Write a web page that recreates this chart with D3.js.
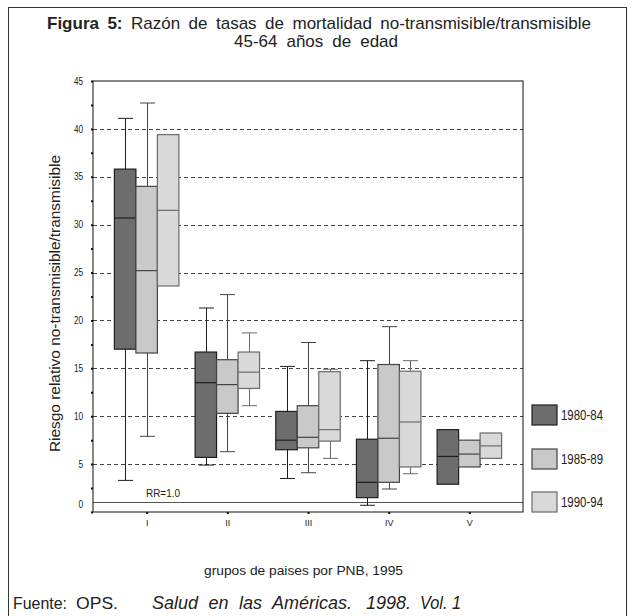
<!DOCTYPE html>
<html lang="es">
<head>
<meta charset="utf-8"/>
<title>Figura 5</title>
<script src="https://cdn.jsdelivr.net/npm/d3@7/dist/d3.min.js"></script>
<style>
  html, body { margin:0; padding:0; background:#fff; }
  svg { display:block; }
  text { font-family:"Liberation Sans", Arial, sans-serif; fill:#222; }
  .axis path { display:none; }
  .axis line { stroke:#111; stroke-width:2; }
  .grid { stroke:#444; stroke-dasharray:4,3; }
</style>
</head>
<body>
<svg width="634" height="616"></svg>
<script>
// grupos de paises y periodos
const groups  = ["I", "II", "III", "IV", "V"];
const periods = ["1980-84", "1985-89", "1990-94"];

// [bigote inf, q1, mediana, q3, bigote sup] por grupo
const stats8084 = [
  [3.3, 17.0, 30.7, 35.8, 41.1],
  [4.9,  5.7, 13.5, 16.7, 21.3],
  [3.5,  6.5,  7.5, 10.5, 15.2],
  [0.7,  1.5,  3.1,  7.6, 15.8],
  [null, 2.9,  5.8,  8.6, null]
];
const stats8589 = [
  [7.9, 16.6, 25.2, 34.0, 42.7],
  [6.3, 10.3, 13.3, 15.9, 22.7],
  [4.1,  6.7,  7.8, 11.1, 17.7],
  [2.4,  3.1,  7.7, 15.4, 19.35],
  [null, 4.7,  6.05, 7.5, null]
];
const stats9094 = [
  [null, 23.6, 31.5, 39.4, null],
  [11.1, 12.9, 14.6, 16.7, 18.7],
  [5.6,  7.4,  8.6, 14.65, 14.9],
  [4.0,  4.7,  9.4, 14.7, 15.8],
  [null, 5.6,  6.9,  8.25, null]
];
const allStats = [stats8084, stats8589, stats9094];

const yTicks  = [0, 5, 10, 15, 20, 25, 30, 35, 40, 45];
const yMinor  = [2.5, 7.5, 12.5, 17.5, 22.5, 27.5, 32.5, 37.5, 42.5];
const gridAt  = [5, 10, 15, 20, 25, 30, 35, 40];
const rrValue = 1.0;

const fills   = ["#6d6d6d", "#c9c9c9", "#d9d9d9"];
const strokes = ["#1e1e1e", "#444", "#6a6a6a"];

const svg = d3.select("svg");

// letra angosta: comprime el texto a un ancho dado (o a 82%)
function narrow(sel, width) {
  sel.each(function() {
    const w = width != null ? width : this.getComputedTextLength() * 0.82;
    d3.select(this).attr("textLength", w).attr("lengthAdjust", "spacingAndGlyphs");
  });
  return sel;
}

// texto justificado: se ensanchan los espacios hasta el ancho dado
function spread(sel, width) {
  const nat = sel.node().getComputedTextLength();
  const spaces = (sel.text().match(/ /g) || []).length;
  if (spaces && width > nat) sel.attr("word-spacing", (width - nat) / spaces);
  return sel;
}

// marco exterior
svg.append("rect")
  .attr("x", 8.5).attr("y", 7.5).attr("width", 618).attr("height", 640)
  .attr("fill", "none").attr("stroke", "#333");

// titulo
svg.append("text")
  .attr("x", 319).attr("y", 29).attr("text-anchor", "middle")
  .attr("font-size", 17)
  .call(t => {
    t.append("tspan").attr("font-weight", "bold").text("Figura 5:");
    t.append("tspan").text(" Razón de tasas de mortalidad no-transmisible/transmisible");
  })
  .call(spread, 544);
svg.append("text")
  .attr("x", 316).attr("y", 47).attr("text-anchor", "middle")
  .attr("font-size", 17)
  .text("45-64 años de edad")
  .call(spread, 164);

const L = 93, R = 523, T = 81, B = 512;

const x = d3.scalePoint().domain(groups).range([L, R]).padding(0.665);
const off = d3.scaleBand().domain(periods).range([-32.25, 32.25]);
const y = d3.scaleLinear().domain([0, 45]).range([B, T]);

// lineas de la grilla
svg.append("g").selectAll("line")
  .data(gridAt).join("line")
  .attr("class", "grid")
  .attr("x1", L).attr("x2", R)
  .attr("y1", d => Math.round(y(d)) + 0.5).attr("y2", d => Math.round(y(d)) + 0.5);

// RR = 1.0
svg.append("line")
  .attr("x1", L).attr("x2", R)
  .attr("y1", Math.round(y(rrValue)) + 0.5).attr("y2", Math.round(y(rrValue)) + 0.5)
  .attr("stroke", "#555");
svg.append("text")
  .attr("x", 146).attr("y", y(rrValue) - 5)
  .attr("font-size", 11).attr("fill", "#333")
  .text("RR=1.0")
  .call(narrow, 34);

// cajas
const bw = off.bandwidth();
const cap = 15;
periods.forEach((p, pi) => {
  const g = svg.append("g");
  const rows = allStats[pi].map((s, gi) => ({ g: groups[gi], s }));
  const cx = d => x(d.g) + off(p) + bw / 2;

  // bigotes
  rows.forEach(d => {
    const [lo, q1, , q3, hi] = d.s;
    const c = Math.round(cx(d)) + 0.5;
    if (hi != null) {
      g.append("line").attr("x1", c).attr("x2", c).attr("y1", y(q3)).attr("y2", y(hi)).attr("stroke", strokes[pi]);
      g.append("line").attr("x1", c - cap / 2).attr("x2", c + cap / 2).attr("y1", y(hi)).attr("y2", y(hi)).attr("stroke", strokes[pi]);
    }
    if (lo != null) {
      g.append("line").attr("x1", c).attr("x2", c).attr("y1", y(q1)).attr("y2", y(lo)).attr("stroke", strokes[pi]);
      g.append("line").attr("x1", c - cap / 2).attr("x2", c + cap / 2).attr("y1", y(lo)).attr("y2", y(lo)).attr("stroke", strokes[pi]);
    }
  });

  g.selectAll("rect").data(rows).join("rect")
    .attr("x", d => x(d.g) + off(p))
    .attr("width", bw)
    .attr("y", d => y(d.s[3]))
    .attr("height", d => y(d.s[1]) - y(d.s[3]))
    .attr("fill", fills[pi])
    .attr("stroke", strokes[pi])
    .attr("stroke-width", 1.2);

  g.selectAll("line.med").data(rows).join("line")
    .attr("class", "med")
    .attr("x1", d => x(d.g) + off(p)).attr("x2", d => x(d.g) + off(p) + bw)
    .attr("y1", d => y(d.s[2])).attr("y2", d => y(d.s[2]))
    .attr("stroke", strokes[pi]).attr("stroke-width", 1.2);
});

// borde del area de trazado
svg.append("rect")
  .attr("x", L).attr("y", T).attr("width", R - L).attr("height", B - T)
  .attr("fill", "none").attr("stroke", "#111");

// ejes
const yAxis = svg.append("g").attr("class", "axis")
  .attr("transform", `translate(${L},0)`)
  .call(d3.axisLeft(y).tickValues(yTicks).tickSize(2).tickPadding(8));
yAxis.selectAll("text").attr("font-size", 10).attr("fill", "#333")
  .attr("dy", d => d === 0 ? "-0.45em" : "0.32em")
  .call(narrow);
svg.append("g").attr("class", "axis")
  .attr("transform", `translate(${L},0)`)
  .call(d3.axisLeft(y).tickValues(yMinor).tickSize(2).tickFormat(""))
  .selectAll("line").attr("stroke-width", 1).attr("stroke", "#333");

const xAxis = svg.append("g").attr("class", "axis")
  .attr("transform", `translate(0,${B})`)
  .call(d3.axisBottom(x).tickSize(2).tickPadding(6));
xAxis.selectAll("text").attr("font-size", 9).attr("fill", "#333");

// titulos de ejes
svg.append("text")
  .attr("transform", "translate(60,303.5) rotate(-90)")
  .attr("text-anchor", "middle").attr("font-size", 14).attr("fill", "#333")
  .text("Riesgo relativo no-transmisible/transmisible")
  .call(narrow, 297);
svg.append("text")
  .attr("x", 303.5).attr("y", 575).attr("text-anchor", "middle")
  .attr("font-size", 12).attr("fill", "#333")
  .text("grupos de paises por PNB, 1995")
  .call(narrow, 199);

// leyenda
const leg = svg.append("g").selectAll("g").data(periods).join("g")
  .attr("transform", (d, i) => `translate(532,${[405, 449, 492][i]})`);
leg.append("rect")
  .attr("width", 25).attr("height", 20)
  .attr("fill", (d, i) => fills[i]).attr("stroke", (d, i) => strokes[i]).attr("stroke-width", 1.2);
leg.append("text")
  .attr("x", 29).attr("y", 15)
  .attr("font-size", 14).attr("fill", "#333")
  .text(d => d)
  .call(narrow, 42);

// fuente
const src = svg.append("g").attr("font-size", 17);
src.append("text").attr("x", 13).attr("y", 609).text("Fuente:").call(narrow, 54);
src.append("text").attr("x", 76).attr("y", 609).text("OPS.").call(narrow, 42);
src.append("text").attr("x", 152).attr("y", 609).attr("font-style", "italic")
  .attr("font-size", 18).text("Salud en las Américas.").call(spread, 200);
src.append("text").attr("x", 366).attr("y", 609).attr("font-style", "italic")
  .attr("font-size", 18).text("1998.");
src.append("text").attr("x", 420).attr("y", 609).attr("font-style", "italic")
  .attr("font-size", 18).text("Vol. 1").call(narrow, 41);
</script>
</body>
</html>
